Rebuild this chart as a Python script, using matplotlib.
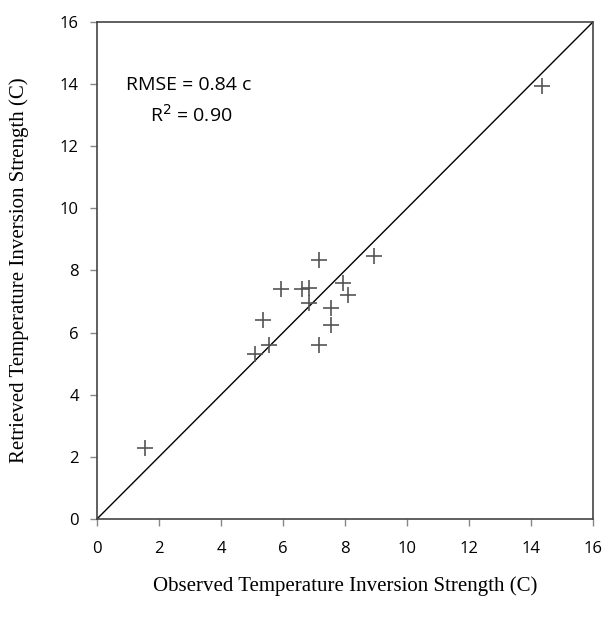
import matplotlib
matplotlib.use("Agg")
from matplotlib import pyplot as plt
import numpy as np

observed = [1.55, 5.1, 5.35, 5.55, 5.95, 6.6, 6.85, 6.85, 7.15, 7.15, 7.55, 7.55, 7.95, 8.1, 8.95, 14.35]
retrieved = [2.3, 5.3, 6.4, 5.6, 7.4, 7.4, 7.45, 6.95, 8.35, 5.6, 6.25, 6.8, 7.6, 7.2, 8.45, 13.95]
one_to_one = [0, 16]
ticks = [0, 2, 4, 6, 8, 10, 12, 14, 16]

fig = plt.figure(figsize=(6.06, 6.21), dpi=100)
ax = fig.add_axes([0.160, 0.1643, 0.8185, 0.8003])

ax.plot(one_to_one, one_to_one, color="black", lw=1)
ax.scatter(observed, retrieved, marker="+", s=130, color="#555555", linewidths=1.2, zorder=3)

ax.set_xlim(0, 16)
ax.set_ylim(0, 16)
ax.set_xticks(ticks)
ax.set_yticks(ticks)
for sp in ax.spines.values():
    sp.set_color("#444444")
    sp.set_linewidth(1.2)
ax.tick_params(direction="out", length=5, width=1, color="#888888", labelsize=12, pad=8)
for lab in ax.get_xticklabels() + ax.get_yticklabels():
    lab.set_family("Open Sans")
ax.tick_params(axis="x", pad=11)

ax.text(2.97, 13.97, "RMSE = 0.84 c", ha="center", va="center", fontsize=14, family="Open Sans")
ax.text(3.03, 13.0, "R$^2$ = 0.90", ha="center", va="center", fontsize=14, family="Open Sans")

ax.set_xlabel("Observed Temperature Inversion Strength (C)", family="Liberation Serif", fontsize=15, labelpad=14)
ax.set_ylabel("Retrieved Temperature Inversion Strength (C)", family="Liberation Serif", fontsize=15, labelpad=22)

fig.savefig("out.png", dpi=100)
